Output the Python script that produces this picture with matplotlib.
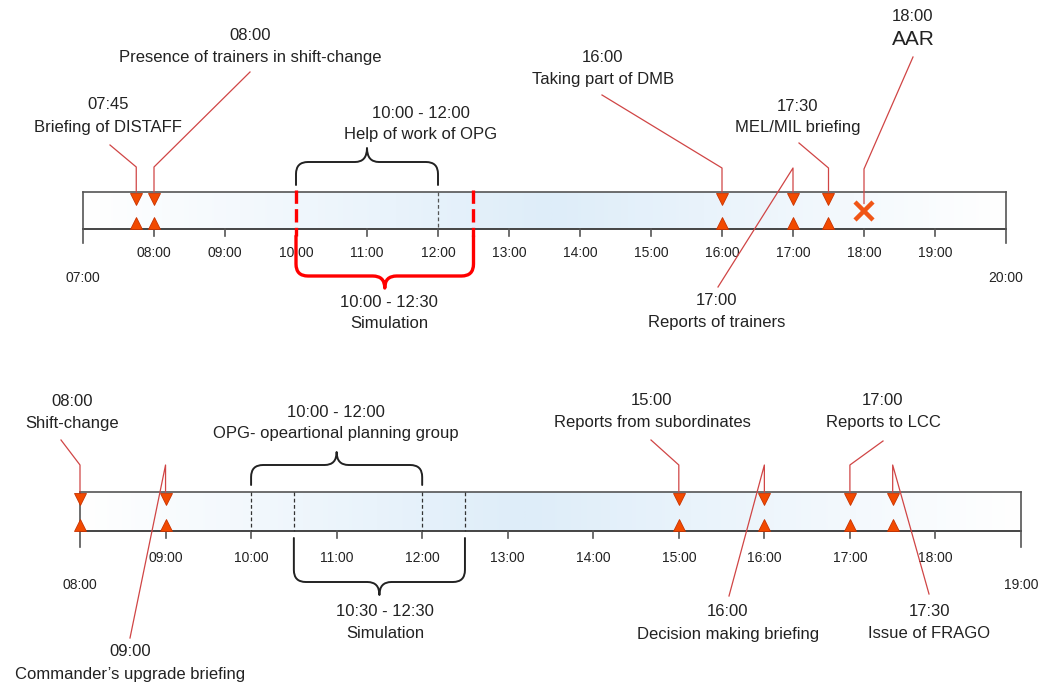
import numpy as np
import matplotlib
matplotlib.use("Agg")
import matplotlib.pyplot as plt
from matplotlib.path import Path
from matplotlib.patches import PathPatch
from matplotlib.colors import LinearSegmentedColormap

plt.rcParams['font.family'] = ['Liberation Sans', 'DejaVu Sans']

W, H = 1042, 685

# ---- data: trainers' timeline (top)
top_span = (7, 20)
top_ticks = [8, 9, 10, 11, 12, 13, 14, 15, 16, 17, 18, 19]
top_tick_labels = ["08:00", "09:00", "10:00", "11:00", "12:00", "13:00",
                   "14:00", "15:00", "16:00", "17:00", "18:00", "19:00"]
top_end_labels = ["07:00", "20:00"]
top_event_times = [7.75, 8.0, 16.0, 17.0, 17.5, 18.0]
top_event_clock = ["07:45", "08:00", "16:00", "17:00", "17:30", "18:00"]
top_event_names = ["Briefing of DISTAFF", "Presence of trainers in shift-change",
                   "Taking part of DMB", "Reports of trainers", "MEL/MIL briefing", "AAR"]
top_event_kind = ["tri", "tri", "tri", "tri", "tri", "cross"]
top_opg = (10, 12)
top_opg_label = ["10:00 - 12:00", "Help of work of OPG"]
top_sim = (10, 12.5)
top_sim_label = ["10:00 - 12:30", "Simulation"]

# ---- data: training audience timeline (bottom)
bot_span = (8, 19)
bot_ticks = [9, 10, 11, 12, 13, 14, 15, 16, 17, 18]
bot_tick_labels = ["09:00", "10:00", "11:00", "12:00", "13:00",
                   "14:00", "15:00", "16:00", "17:00", "18:00"]
bot_end_labels = ["08:00", "19:00"]
bot_event_times = [8.0, 9.0, 15.0, 16.0, 17.0, 17.5]
bot_event_clock = ["08:00", "09:00", "15:00", "16:00", "17:00", "17:30"]
bot_event_names = ["Shift-change", "Commander\u2019s upgrade briefing",
                   "Reports from subordinates", "Decision making briefing",
                   "Reports to LCC", "Issue of FRAGO"]
bot_opg = (10, 12)
bot_opg_label = ["10:00 - 12:00", "OPG- opeartional planning group"]
bot_sim = (10.5, 12.5)
bot_sim_label = ["10:30 - 12:30", "Simulation"]

# ---- layout (pixels): label centre x, line1 y, line2 y, leader start x/y, elbow y
top_layout = [(108, 104, 127, 110, 145, 167),
              (250, 35, 57, 250, 72, 167),
              (603, 57, 79, 602, 95, 168),
              (717, 300, 322, 718, 287, 168),
              (798, 106, 127, 799, 143, 168),
              (913, 16, 39, 913, 57, 169)]
bot_layout = [(72, 401, 423, 61, 440, 465),
              (130, 652, 675, 130, 638, 465),
              (652, 400, 422, 651, 440, 465),
              (728, 612, 634, 729, 596, 465),
              (883, 400, 422, 883, 441, 465),
              (929, 612, 634, 929, 594, 465)]

RED = '#f24a00'
LEADER = '#d04545'
TXT = '#222222'
cmap = LinearSegmentedColormap.from_list("bar", ["#ffffff", "#deedf9"])


def make_axes(fig, span, px_left, px_right):
    ax = fig.add_axes([0, 0, 1, 1])
    pph = (px_right - px_left) / (span[1] - span[0])
    ax.set_xlim(span[0] - px_left / pph, span[0] + (W - px_left) / pph)
    ax.set_ylim(H, 0)
    ax.axis("off")
    ax.patch.set_alpha(0)
    return ax, pph


def px_to_h(ax, px):
    x0, x1 = ax.get_xlim()
    return x0 + px / W * (x1 - x0)


def brace(ax, h0, h1, y_base, y_mid, y_tip, pph, color, lw, r=12):
    rx = r / pph
    s = 1 if y_mid > y_base else -1
    hc = (h0 + h1) / 2
    verts = [(h0, y_base), (h0, y_mid - s * r), (h0, y_mid), (h0 + rx, y_mid),
             (hc - rx, y_mid), (hc, y_mid), (hc, y_tip), (hc, y_mid), (hc + rx, y_mid),
             (h1 - rx, y_mid), (h1, y_mid), (h1, y_mid - s * r), (h1, y_base)]
    codes = [Path.MOVETO, Path.LINETO, Path.CURVE3, Path.CURVE3,
             Path.LINETO, Path.CURVE3, Path.CURVE3, Path.CURVE3, Path.CURVE3,
             Path.LINETO, Path.CURVE3, Path.CURVE3, Path.LINETO]
    ax.add_patch(PathPatch(Path(verts, codes), fill=False, edgecolor=color,
                           lw=lw, capstyle='round', joinstyle='round', zorder=5))


def two_lines(ax, h, y1, y2, lines, size1=12, size2=12):
    ax.text(h, y1, lines[0], ha='center', va='center', fontsize=size1, color=TXT)
    ax.text(h, y2, lines[1], ha='center', va='center', fontsize=size2, color=TXT)


def timeline(ax, span, y_top, y_bot, ticks, tick_labels, end_labels, peak,
             tick_len, end_len, label_y, end_y):
    grad = np.linspace(span[0], span[1], 400)
    vals = np.where(grad < peak, (grad - span[0]) / (peak - span[0]),
                    (span[1] - grad) / (span[1] - peak))
    ax.imshow(vals[np.newaxis, :], extent=(span[0], span[1], y_bot, y_top),
              cmap=cmap, aspect='auto', interpolation='bilinear', zorder=0)
    ax.plot(span, [y_top, y_top], color='#555555', lw=1.2, zorder=2)
    ax.plot(span, [y_bot, y_bot], color='#444444', lw=1.4, zorder=2)
    for h in span:
        ax.plot([h, h], [y_top, y_bot + end_len], color='#555555', lw=1.2, zorder=2)
    for h, lab in zip(ticks, tick_labels):
        ax.plot([h, h], [y_bot, y_bot + tick_len], color='#555555', lw=1.2, zorder=2)
        ax.text(h, label_y, lab, ha='center', va='center', fontsize=10, color=TXT)
    for h, lab in zip(span, end_labels):
        ax.text(h, end_y, lab, ha='center', va='center', fontsize=10, color=TXT)


def events(ax, times, clocks, names, kinds, layout, y_top, y_bot, big_last=False):
    for i, (t, c, n, k, lay) in enumerate(zip(times, clocks, names, kinds, layout)):
        lx, ly1, ly2, sx, sy, ey = lay
        end_y = y_top if k == "tri" else (y_top + y_bot) / 2 - 7
        ax.plot([px_to_h(ax, sx), t, t], [sy, ey, end_y], color=LEADER, lw=0.9, zorder=4)
        if k == "tri":
            ax.plot(t, y_top + 6.5, marker='v', ms=9, color=RED, mec='#c83200', mew=0.6, zorder=6)
            ax.plot(t, y_bot - 6.5, marker='^', ms=9, color=RED, mec='#c83200', mew=0.6, zorder=6)
        else:
            ax.plot(t, (y_top + y_bot) / 2, marker='x', ms=13, mew=3.2, color='#f05516', zorder=6)
        size2 = 15 if (big_last and k == "cross") else 12
        two_lines(ax, px_to_h(ax, lx), ly1, ly2, [c, n], 12, size2)


fig = plt.figure(figsize=(W / 100, H / 100), dpi=100)
fig.patch.set_facecolor('white')

# ---- top timeline
ax1, pph1 = make_axes(fig, top_span, 83, 1006)
T_TOP, T_BOT = 192, 229
timeline(ax1, top_span, T_TOP, T_BOT, top_ticks, top_tick_labels, top_end_labels,
         13.6, 7, 14, 253, 278)
ax1.plot([top_opg[1]] * 2, [T_TOP, T_BOT], color='#555555', lw=0.9, ls=(0, (3, 2)), zorder=3)
for h in top_sim:
    ax1.plot([h, h], [T_TOP - 2, T_BOT + 7], color='#ff0000', lw=2.4, ls=(0, (4, 1.6)), zorder=3)
brace(ax1, top_opg[0], top_opg[1], 185, 162, 148, pph1, '#222222', 1.4)
brace(ax1, top_sim[0], top_sim[1], 236, 276, 288, pph1, '#ff0000', 2.4)
two_lines(ax1, px_to_h(ax1, 421), 113, 134, top_opg_label)
two_lines(ax1, px_to_h(ax1, 389), 302, 323, top_sim_label)
events(ax1, top_event_times, top_event_clock, top_event_names, top_event_kind,
       top_layout, T_TOP, T_BOT, big_last=True)

# ---- bottom timeline
ax2, pph2 = make_axes(fig, bot_span, 80, 1021)
B_TOP, B_BOT = 492, 531
timeline(ax2, bot_span, B_TOP, B_BOT, bot_ticks, bot_tick_labels, bot_end_labels,
         13.2, 7, 16, 558, 585)
for h in list(bot_opg) + list(bot_sim):
    ax2.plot([h, h], [B_TOP, B_BOT], color='#333333', lw=0.9, ls=(0, (3, 2)), zorder=3)
brace(ax2, bot_opg[0], bot_opg[1], 485, 465, 452, pph2, '#222222', 1.4)
brace(ax2, bot_sim[0], bot_sim[1], 538, 582, 595, pph2, '#222222', 1.4)
two_lines(ax2, px_to_h(ax2, 336), 412, 433, bot_opg_label)
two_lines(ax2, px_to_h(ax2, 385), 612, 633, bot_sim_label)
events(ax2, bot_event_times, bot_event_clock, bot_event_names, ["tri"] * 6,
       bot_layout, B_TOP, B_BOT)

fig.savefig("out.png", dpi=100)
